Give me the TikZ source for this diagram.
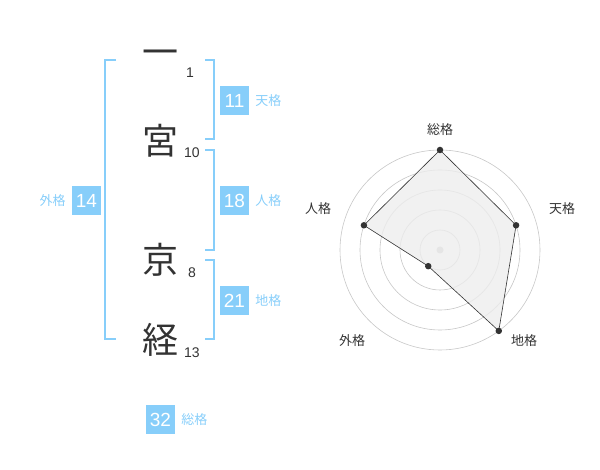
\documentclass[tikz,border=0pt]{standalone}
\usepackage{fontspec}
\usetikzlibrary{positioning}
\setmainfont{Liberation Sans}
\newfontfamily\jpfont{Noto Sans CJK JP}
\definecolor{sky}{RGB}{135,206,250}
\definecolor{ink}{RGB}{51,51,51}
\tikzset{
    name-char/.style = {text=ink, inner sep=0pt, font=\jpfont\fontsize{36}{36}\selectfont},
    stroke-num/.style = {text=ink, inner sep=0pt, anchor=west, font=\fontsize{14}{14}\selectfont},
    bracket-line/.style = {draw=sky, line width=1.6pt},
    score-box/.style = {fill=sky, text=white, minimum size=29pt, inner sep=0pt, font=\fontsize{19}{19}\selectfont},
    score-label/.style = {text=sky, inner sep=0pt, font=\jpfont\fontsize{13}{13}\selectfont},
    axis-label/.style = {text=ink, inner sep=0pt, font=\jpfont\fontsize{13}{13}\selectfont},
    ring/.style = {draw=black!22, line width=0.6pt},
    dot/.style = {circle, fill=ink, inner sep=0pt, minimum size=6.5pt},
}

\begin{document}
\begin{tikzpicture}[x=1pt, y=-1pt]
\useasboundingbox (0,0) rectangle (600,470);

% name, one character per row
\node[name-char] (c1) at (160,58) {一};
\node[name-char] (c2) at (160,141) {宮};
\node[name-char] (c3) at (160,260) {京};
\node[name-char] (c4) at (160,340) {経};
\node[stroke-num] (n1) at (186,73) {1};
\node[stroke-num] (n2) at (184,153) {10};
\node[stroke-num] (n3) at (188,273) {8};
\node[stroke-num] (n4) at (184,353) {13};

% brackets
\draw[bracket-line] (116,60) -- (105,60) -- (105,339) -- (116,339);
\draw[bracket-line] (205,60) -- (214,60) -- (214,139) -- (205,139);
\draw[bracket-line] (205,150) -- (214,150) -- (214,250) -- (205,250);
\draw[bracket-line] (205,260) -- (214,260) -- (214,339) -- (205,339);

% scores
\node[score-box] (ten) at (234.5,100.5) {11};
\node[score-label, right=6pt of ten] (ten-l) {天格};
\node[score-box] (jin) at (234.5,200.5) {18};
\node[score-label, right=6pt of jin] (jin-l) {人格};
\node[score-box] (chi) at (234.5,300.5) {21};
\node[score-label, right=6pt of chi] (chi-l) {地格};
\node[score-box] (gai) at (86.5,200.5) {14};
\node[score-label, left=6pt of gai] (gai-l) {外格};
\node[score-box] (sou) at (160.5,419.5) {32};
\node[score-label, right=6pt of sou] (sou-l) {総格};

% radar chart
\begin{scope}[shift={(440,250)}, yscale=-1]
\foreach \r in {20,40,60,80,100}
    \draw[ring] (0,0) circle (\r);
\fill[black!22] (0,0) circle (3.5);
\coordinate (p-sou) at (90:100);
\coordinate (p-ten) at (18:80);
\coordinate (p-chi) at (-54:100);
\coordinate (p-gai) at (-126:20);
\coordinate (p-jin) at (162:80);
\filldraw[fill=black!7, draw=ink, line width=0.6pt, fill opacity=0.8]
    (p-sou) -- (p-ten) -- (p-chi) -- (p-gai) -- (p-jin) -- cycle;
\foreach \p in {sou,ten,chi,gai,jin}
    \node[dot] at (p-\p) {};
\node[axis-label] (l-sou) at (0,120) {総格};
\node[axis-label] (l-ten) at (122,41) {天格};
\node[axis-label] (l-chi) at (84,-91) {地格};
\node[axis-label] (l-gai) at (-88,-91) {外格};
\node[axis-label] (l-jin) at (-122,41) {人格};
\end{scope}
\end{tikzpicture}
\end{document}
